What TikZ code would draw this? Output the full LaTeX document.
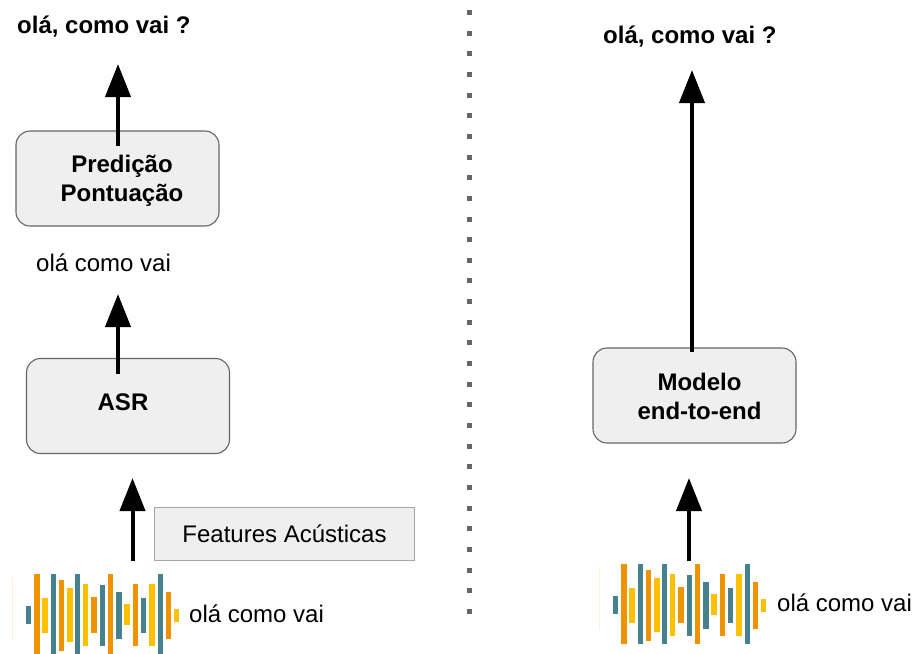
\documentclass[tikz,border=0pt]{standalone}
\usepackage{fontspec}
\setmainfont{Liberation Sans}
\usetikzlibrary{arrows.meta}
\definecolor{bteal}{HTML}{45818E}
\definecolor{borange}{HTML}{F09300}
\definecolor{byellow}{HTML}{FFC000}
\definecolor{boxfill}{HTML}{EFEFEF}
\definecolor{boxline}{HTML}{666666}
\definecolor{featline}{HTML}{A6A6A6}
\definecolor{dotgrey}{HTML}{666666}
\definecolor{faint}{HTML}{FDF3D2}
\tikzset{
  x=1pt,y=-1pt,
  stagebox/.style={draw=boxline,line width=1.1pt,fill=boxfill,rounded corners=14pt,
    minimum width=203pt,minimum height=95pt,inner sep=0pt},
  featbox/.style={draw=featline,line width=1.7pt,fill=boxfill,
    minimum width=260pt,minimum height=53pt,inner sep=0pt,font=\fontsize{24}{28}\selectfont},
  boxtext/.style={font=\bfseries\fontsize{24}{29}\selectfont,align=center,text=black},
  plain/.style={font=\fontsize{24}{28}\selectfont,text=black,inner sep=0pt},
  strong/.style={font=\bfseries\fontsize{24}{28}\selectfont,text=black,inner sep=0pt},
  flow/.style={line width=4pt,-{Triangle[width=25pt,length=33pt]}},
  bar/.style={line width=5.4pt},
  pt/.style={fill=dotgrey,draw=none,minimum size=5pt,inner sep=0pt,shape=rectangle}
}
\newcommand{\wavebars}{%
  \draw[faint,line width=1pt] (12,577) -- (12,640);
  \foreach \px/\pa/\pb/\pc in {
    28.7/606/624/bteal, 37/574/654/borange, 45/598/633/byellow,
    53.3/574/654/bteal, 61.3/580/651/borange, 70/588/642/byellow,
    77.3/574/654/bteal, 85.7/584/646/byellow, 94/597/633/borange,
    102.7/585/646/bteal, 110.7/574/654/borange, 119/592/639/bteal,
    127/604/625/byellow, 135.3/584/646/borange, 143.7/598/633/bteal,
    152/584/646/byellow, 160.3/574/654/bteal, 168.7/592/639/borange,
    176.3/609/622/byellow}
    {\draw[bar,\pc] (\px,\pa) -- (\px,\pb);}
}
\begin{document}
\begin{tikzpicture}
\useasboundingbox (0,0) rectangle (914,654);
% separator
\foreach \i in {0,...,29}
  \node[pt] (sep\i) at (469,{12.5+20.65*\i}) {};
% left column
\node[strong,anchor=west] (outL) at (17,27) {olá, como vai ?};
\node[stagebox,label={[boxtext,xshift=4.5pt,yshift=-2pt]center:Predição\\Pontuação}] (punct) at (117.5,178.5) {};
\node[plain,anchor=west] (midL) at (36,263) {olá como vai};
\node[stagebox,label={[boxtext,xshift=-5pt,yshift=4pt]center:ASR}] (asr) at (128,406) {};
\node[featbox] (feat) at (284.5,534) {Features Acústicas};
\node[plain,anchor=west] (inL) at (189,614) {olá como vai};
\wavebars
\coordinate (a1s) at (132.5,561); \coordinate (a1e) at (132.5,478);
\coordinate (a2s) at (118,374); \coordinate (a2e) at (118,294);
\coordinate (a3s) at (118,146); \coordinate (a3e) at (118,64);
\draw[flow] (a1s) -- (a1e);
\draw[flow] (a2s) -- (a2e);
\draw[flow] (a3s) -- (a3e);
% right column
\node[strong,anchor=west] (outR) at (603,37) {olá, como vai ?};
\node[stagebox,label={[boxtext,xshift=5pt,yshift=-1pt]center:Modelo\\end-to-end}] (e2e) at (694.5,395.5) {};
\node[plain,anchor=west] (inR) at (777,603) {olá como vai};
\begin{scope}[shift={(587,-10)}]
\wavebars
\end{scope}
\coordinate (b1s) at (689,561); \coordinate (b1e) at (689,478);
\coordinate (b2s) at (692,352); \coordinate (b2e) at (692,70);
\draw[flow] (b1s) -- (b1e);
\draw[flow] (b2s) -- (b2e);
\end{tikzpicture}
\end{document}
